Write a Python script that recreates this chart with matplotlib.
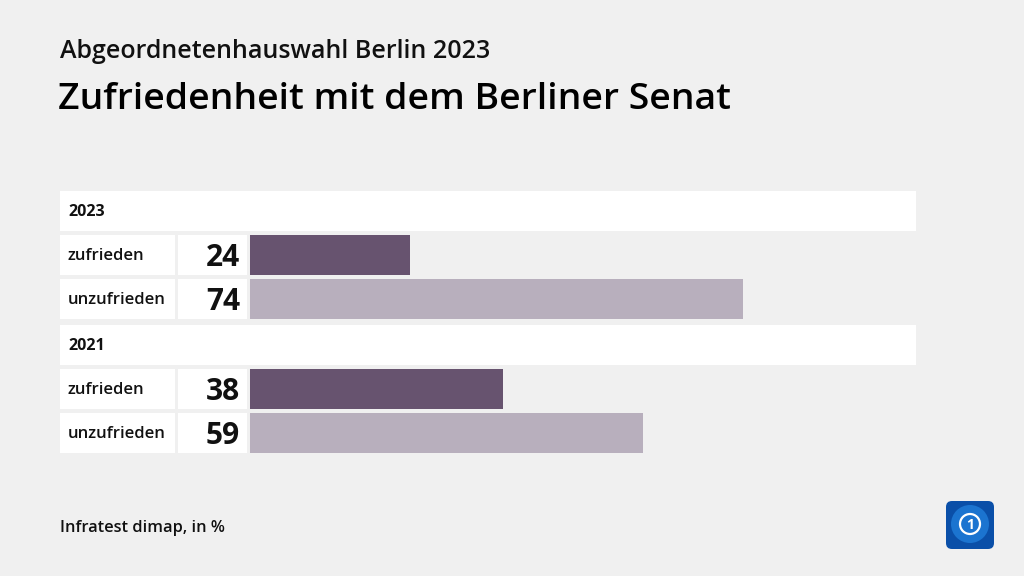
import matplotlib
matplotlib.use("Agg")
import matplotlib.pyplot as plt
from matplotlib.patches import Rectangle, FancyBboxPatch, Circle

# ---- data ----
groups = ["2023", "2021"]
categories = ["zufrieden", "unzufrieden"]
values_2023 = [24, 74]
values_2021 = [38, 59]
values = {"2023": values_2023, "2021": values_2021}
bar_colors = ["#67536f", "#b8afbd"]

title_top = "Abgeordnetenhauswahl Berlin 2023"
title_main = "Zufriedenheit mit dem Berliner Senat"
source = "Infratest dimap, in %"

W, H = 1024, 576
BG = "#f0f0f0"
FONT = "Open Sans"

fig = plt.figure(figsize=(W / 100, H / 100), dpi=100, facecolor=BG)

# layout axes in pixel coordinates
lay = fig.add_axes([0, 0, 1, 1])
lay.set_xlim(0, W)
lay.set_ylim(H, 0)
lay.axis("off")
lay.set_facecolor(BG)

lay.text(60, 51, title_top, fontsize=18, fontweight="semibold", family=FONT,
         va="center", ha="left", color="#111111")
lay.text(58, 100, title_main, fontsize=26.9, fontweight="semibold", family=FONT,
         va="center", ha="left", color="#000000")
lay.text(60, 528, source, fontsize=11.8, fontweight="semibold", family=FONT,
         va="center", ha="left", color="#111111")

# bar axes: x from 250 to 916 px maps 0..100
bx0, bx1 = 250, 916
y_top, y_bot = 191, 453
bax = fig.add_axes([bx0 / W, 1 - y_bot / H, (bx1 - bx0) / W, (y_bot - y_top) / H])
bax.set_xlim(0, 100)
bax.set_ylim(y_bot, y_top)
bax.axis("off")
bax.patch.set_alpha(0)

row_h = 40
y = 191
for g in groups:
    # header row
    lay.add_patch(Rectangle((60, y), 856, row_h, facecolor="white", edgecolor="none"))
    lay.text(68, y + row_h / 2 + 1, g, fontsize=11.5, fontweight="bold", family=FONT,
             va="center", ha="left", color="#111111")
    y += row_h + 4
    for i, cat in enumerate(categories):
        v = values[g][i]
        lay.add_patch(Rectangle((60, y), 115, row_h, facecolor="white", edgecolor="none"))
        lay.add_patch(Rectangle((178, y), 69, row_h, facecolor="white", edgecolor="none"))
        lay.text(68, y + row_h / 2 + 1.5, cat, fontsize=12, fontweight="semibold", family=FONT,
                 va="center", ha="left", color="#111111")
        lay.text(240, y + row_h / 2 + 3, str(v), fontsize=21.5, fontweight="bold", family=FONT,
                 va="center", ha="right", color="#111111")
        bax.barh(y + row_h / 2, v, height=row_h, left=0, color=bar_colors[i],
                 edgecolor="none")
        y += row_h + 4
    y += 2

# logo
lay.add_patch(FancyBboxPatch((946, 501), 48, 48, boxstyle="round,pad=0,rounding_size=6",
                             facecolor="#0a4fa8", edgecolor="none"))
lay.add_patch(Circle((970, 524), 19, facecolor="#1b74d0", edgecolor="none"))
lay.add_patch(Circle((970, 524), 10, facecolor="none", edgecolor="white", linewidth=1.6))
lay.text(970, 525, "1", fontsize=10, fontweight="bold", family=FONT, color="white",
         ha="center", va="center")

fig.savefig("out.png", dpi=100, facecolor=BG)
